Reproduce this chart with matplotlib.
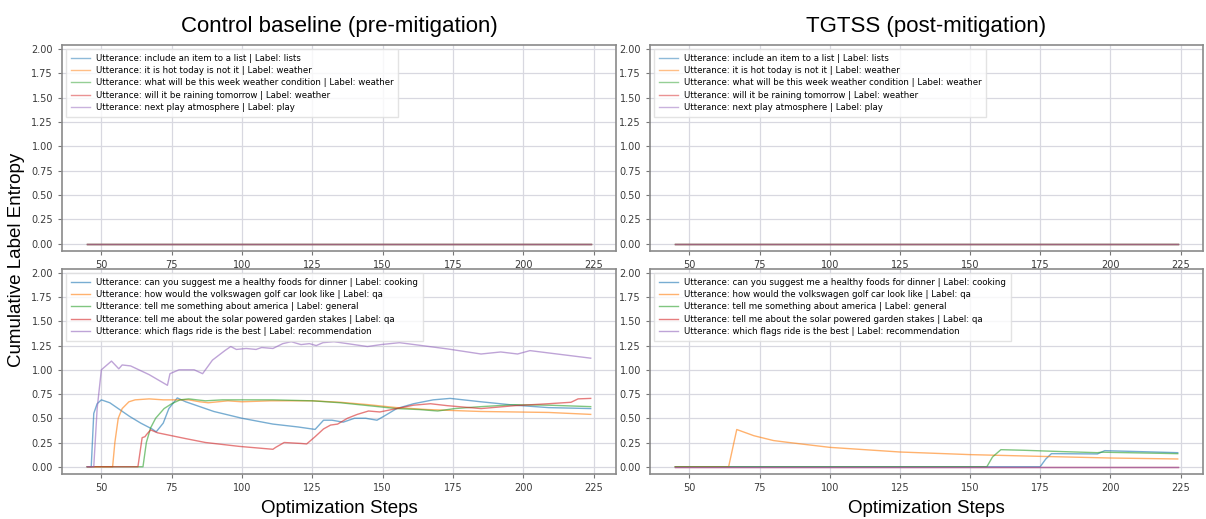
import numpy as np
import matplotlib
matplotlib.use("Agg")
import matplotlib.pyplot as plt

# legend texts
top_labels = [
    "Utterance: include an item to a list | Label: lists",
    "Utterance: it is hot today is not it | Label: weather",
    "Utterance: what will be this week weather condition | Label: weather",
    "Utterance: will it be raining tomorrow | Label: weather",
    "Utterance: next play atmosphere | Label: play",
]
bottom_labels = [
    "Utterance: can you suggest me a healthy foods for dinner | Label: cooking",
    "Utterance: how would the volkswagen golf car look like | Label: qa",
    "Utterance: tell me something about america | Label: general",
    "Utterance: tell me about the solar powered garden stakes | Label: qa",
    "Utterance: which flags ride is the best | Label: recommendation",
]

# top rows: every utterance stays at zero
flat_x = [45, 224]
flat_y = [0, 0]

# control baseline, bottom row
cook_x = [45, 46.4, 47.3, 48.5, 50, 53, 56, 60, 64, 68, 69.5, 72, 74, 77, 80, 85, 90, 100, 111, 120, 126,
          129, 132, 136, 140, 144, 148, 151, 155, 161, 168, 174, 185, 197, 209, 224]
cook_y = [0, 0, 0.55, 0.65, 0.69, 0.66, 0.6, 0.52, 0.45, 0.39, 0.36, 0.45, 0.6, 0.71, 0.67, 0.62, 0.57, 0.5, 0.44, 0.41, 0.385,
          0.48, 0.48, 0.46, 0.5, 0.5, 0.48, 0.53, 0.6, 0.65, 0.69, 0.705, 0.67, 0.635, 0.61, 0.6]

vw_x = [45, 54, 54.8, 56, 57.4, 59.8, 62, 67, 72, 75, 81, 85, 88, 95, 100, 110, 120, 125, 135, 145, 155, 166, 175, 185, 197, 209, 224]
vw_y = [0, 0, 0.25, 0.5, 0.6, 0.67, 0.69, 0.7, 0.69, 0.69, 0.69, 0.67, 0.66, 0.68, 0.67, 0.68, 0.68, 0.68, 0.665, 0.64, 0.61, 0.59, 0.58, 0.57, 0.565, 0.56, 0.54]

am_x = [45, 64.8, 66, 67.5, 69.3, 72.3, 75, 78, 81, 87, 93, 100, 111, 125, 135, 145, 155, 163, 169.6, 175.6, 185, 197, 209, 224]
am_y = [0, 0, 0.25, 0.4, 0.5, 0.6, 0.65, 0.69, 0.7, 0.68, 0.69, 0.69, 0.69, 0.68, 0.66, 0.63, 0.6, 0.59, 0.575, 0.6, 0.62, 0.64, 0.635, 0.62]

solar_x = [45, 63, 64.5, 65.5, 66, 67.5, 70, 75, 80, 87, 93, 99, 105, 111, 112, 115, 118, 121, 123, 126, 129, 131.5, 134,
           137.5, 141, 145, 149, 155, 161, 167, 173, 185, 197, 209, 217, 219.5, 224]
solar_y = [0, 0, 0.3, 0.31, 0.33, 0.38, 0.35, 0.32, 0.29, 0.25, 0.23, 0.21, 0.195, 0.18, 0.2, 0.25, 0.245, 0.24, 0.235, 0.31, 0.39, 0.43, 0.44,
           0.5, 0.54, 0.575, 0.565, 0.6, 0.635, 0.65, 0.63, 0.6, 0.63, 0.65, 0.665, 0.7, 0.705]

flags_x = [45, 47.3, 48.5, 50, 52, 53.6, 56.2, 57.4, 60.4, 67, 73.5, 74.4, 77.6, 80, 83, 86, 89.5, 94, 96, 98, 101.5, 105, 107,
           111, 114.5, 117.5, 121, 124, 126.4, 128.8, 132.7, 137.5, 144.6, 149.4, 156, 161.3, 173.2, 185, 192, 198, 202.4, 209, 224]
flags_y = [0, 0, 0.6, 1.0, 1.05, 1.09, 1.01, 1.05, 1.04, 0.95, 0.84, 0.96, 1.0, 1.0, 1.0, 0.96, 1.1, 1.2, 1.24, 1.21, 1.22, 1.21, 1.23,
           1.22, 1.27, 1.29, 1.26, 1.27, 1.25, 1.28, 1.29, 1.27, 1.24, 1.26, 1.28, 1.26, 1.215, 1.163, 1.184, 1.163, 1.198, 1.174, 1.12]

# TGTSS, bottom row
cook_r_x = [45, 175, 177, 179, 195.4, 198, 224]
cook_r_y = [0, 0, 0.08, 0.135, 0.132, 0.166, 0.145]
vw_r_x = [45, 64, 66.9, 73, 80, 85.5, 100, 125, 150, 175, 200, 224]
vw_r_y = [0, 0, 0.384, 0.32, 0.27, 0.25, 0.2, 0.152, 0.125, 0.107, 0.09, 0.08]
am_r_x = [45, 156, 158, 161, 169, 183, 195.4, 197, 224]
am_r_y = [0, 0, 0.1, 0.176, 0.17, 0.156, 0.145, 0.15, 0.135]

colors = ["tab:blue", "tab:orange", "tab:green", "tab:red", "tab:purple"]

fig = plt.figure(figsize=(12.06, 5.19), dpi=100)
ax_tl = fig.add_axes([0.0514, 0.5164, 0.4594, 0.397])
ax_tr = fig.add_axes([0.539, 0.5164, 0.4585, 0.397])
ax_bl = fig.add_axes([0.0514, 0.0867, 0.4594, 0.395])
ax_br = fig.add_axes([0.539, 0.0867, 0.4585, 0.395])

for ax in [ax_tl, ax_tr]:
    for c, lab in zip(colors, top_labels):
        ax.plot(flat_x, flat_y, color=c, alpha=0.5, lw=1.0, label=lab)

bl_series = [(cook_x, cook_y), (vw_x, vw_y), (am_x, am_y), (solar_x, solar_y), (flags_x, flags_y)]
for (x, y), c, lab in zip(bl_series, colors, bottom_labels):
    ax_bl.plot(x, y, color=c, alpha=0.6, lw=1.0, label=lab)

br_series = [(cook_r_x, cook_r_y), (vw_r_x, vw_r_y), (am_r_x, am_r_y), (flat_x, flat_y), (flat_x, flat_y)]
for (x, y), c, lab in zip(br_series, colors, bottom_labels):
    ax_br.plot(x, y, color=c, alpha=0.6, lw=1.0, label=lab)

for ax in [ax_tl, ax_tr, ax_bl, ax_br]:
    ax.set_xlim(36, 233)
    ax.set_ylim(-0.075, 2.04)
    ax.set_xticks([50, 75, 100, 125, 150, 175, 200, 225])
    ax.set_yticks(np.arange(0, 2.01, 0.25))
    ax.yaxis.set_major_formatter(matplotlib.ticker.FormatStrFormatter("%.2f"))
    ax.grid(True, color="#d8d8e0", lw=0.9)
    ax.set_axisbelow(True)
    ax.tick_params(labelsize=7, labelcolor="#3a3a3a", color="#777777", length=3, width=0.8)
    for s in ax.spines.values():
        s.set_color("#8a8a8a")
        s.set_linewidth(1.2)
    ax.legend(loc="upper left", fontsize=6.2, labelspacing=0.4, handlelength=2.2,
              framealpha=0.8, edgecolor="#dddddd", fancybox=False, borderpad=0.5)

title_font = dict(family="Liberation Sans", fontsize=16)
ax_tl.set_title("Control baseline (pre-mitigation)", pad=9, **title_font)
ax_tr.set_title("TGTSS (post-mitigation)", pad=9, **title_font)
ax_bl.set_xlabel("Optimization Steps", family="Liberation Sans", fontsize=13.5, labelpad=5)
ax_br.set_xlabel("Optimization Steps", family="Liberation Sans", fontsize=13.5, labelpad=5)
fig.text(0.014, 0.5, "Cumulative Label Entropy", rotation=90, va="center", ha="center",
         family="Liberation Sans", fontsize=13.5)

fig.savefig("out.png", dpi=100)
